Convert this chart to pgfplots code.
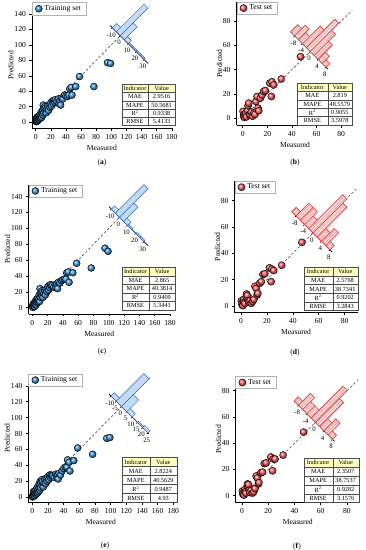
\documentclass[border=0pt]{standalone}
\usepackage{pgfplots}
\usepackage{pgfplotstable}
\pgfplotsset{compat=1.18}
\usepackage{fontspec}
\setmainfont{Liberation Serif}
\usetikzlibrary{plotmarks,patterns}
\definecolor{bluep}{RGB}{60,150,220}
\definecolor{redp}{RGB}{255,90,90}
\definecolor{hbfill}{RGB}{195,220,245}
\definecolor{hbdraw}{RGB}{40,100,210}
\definecolor{hrfill}{RGB}{255,230,230}
\definecolor{hrdraw}{RGB}{230,70,70}
\definecolor{hrhatch}{RGB}{242,140,140}
\definecolor{hdr}{RGB}{255,255,190}
\newcommand\lblfont{\fontsize{7.6}{9}\selectfont}
\newcommand\tblfont{\fontsize{6.3}{7}\selectfont}
\newcommand\hfont{\fontsize{6.8}{7}\selectfont}

\pgfplotstableread{
x ya yc ye
0.3 0.8 1 0.5
0.6 2 2.5 1.5
1 4 3.5 3
1.2 0.5 0.3 1
1.5 6 5 7
2 1.5 2 2.5
2.2 3 3.5 4
2.8 7 6 8
3 2 1.5 2
3.5 5 5.5 4.5
4 3.5 4 5
4.5 8 9 9
5 4 3.5 4
5.5 6 7 6
6 10 11 12
6.5 5 6 5.5
7 8 9 9
7.5 13 12 14
8 6 7 7
8.5 11 10 11
9 15 16 17
9.5 9 8 9
10 22 24 20
10.5 12 13 12
11 17 18 18
12 20 21 22
12.5 14 15 15
13 18 19 20
14 12 13 13
15 17 18 18
16 21 22 23
17 15 16 17
18 22 23 24
19 19 20 20
20 25 26 26
21 21 22 22
22 27 28 28
23 24 25 25
24 28 29 28
25 26 27 27
26 29 28 27
28 27 26 25
30 30 29 29
31 24 25 26
32 28 30 28
33 22 24 23
34 31 32 30
36 30 31 28
38 35 34 33
40 34 35 36
42 33 36 38
44 35 36 38
45 43 44 47
47 45 45 44
48 35 32 33
53 46 44 46
58 59 56 62
77 46 50 54
95 77 75 74
99 76 71 75
}\train

\pgfplotstableread{
x yb yd yf
0.3 5.5 4 3.5
0.8 1.4 1 1
1 3 2.5 2
1.5 0.5 0.3 0.5
2 2.7 5 4.5
2.5 4 3 3
3 1 2 2
4 6 7 7.5
4.3 10.1 9.1 9
4.9 12.3 8 8.5
5.5 3 4 4
6 2.7 3 2.5
7 5 4 4
8 1.5 2 2
9 4 3.5 3
10 3 5 5.5
10.8 13.7 15 15
11.7 17.8 13.4 13.5
12.5 8.2 8.4 9
13 6 9.6 10
14.4 16.4 17.2 17.5
15.7 19 18.5 18
17 22 24 24.5
18.4 22.7 24.5 25
22 28.8 29 29.5
23.3 17.8 18.5 19
23.8 30 28 28
25.2 27.4 27 28
31.4 32.3 31 31
47 50.7 48.4 48.5
}\test

\pgfplotsset{
  mainax/.style={scale only axis, anchor=south west, axis x line*=bottom, axis y line*=left,
    tick align=outside, major tick length=2.5pt, every tick/.style={black, line width=0.5pt},
    axis line style={black, line width=0.6pt},
    ticklabel style={font=\lblfont}, /pgf/number format/assume math mode=true,
    xlabel={Measured}, ylabel={Predicted}, label style={font=\lblfont},
    xlabel style={at={([yshift=-19.5pt]axis description cs:0.5,0)}, anchor=center},
    legend style={at={(0,1)}, anchor=north west, draw=gray!60, line width=0.4pt, font=\lblfont,
      inner xsep=3pt, inner ysep=0.8pt},
    legend cell align=left,
    legend image code/.code={\draw[mark repeat=2,mark phase=2,#1] plot coordinates {(0pt,0pt)(6pt,0pt)(12pt,0pt)};},
    clip=false},
  trainax/.style={mainax, xmin=-5, xmax=180, ymin=-8, ymax=155, xtick={0,20,...,180}, ytick={0,20,...,140},
    ylabel style={at={([xshift=-21pt]axis description cs:0,0.5)}, anchor=center}},
  testax/.style={mainax, xmin=-5, xmax=90, xtick={0,20,...,80}, ytick={0,20,...,80},
    ylabel style={at={([xshift=-17pt]axis description cs:0,0.5)}, anchor=center}},
  hist/.style={scale only axis, anchor=origin, rotate around={-45:(current axis.origin)},
    axis x line*=bottom, hide y axis, ymin=0, tick align=outside, major tick length=1.8pt,
    every tick/.style={black, line width=0.5pt}, axis line style={black, line width=0.7pt},
    xticklabel style={font=\hfont}, /pgf/number format/assume math mode=true, clip=false},
  dline/.style={gray!55!black, line width=0.6pt, dash pattern=on 2.5pt off 2pt},
  bball/.style={only marks, mark=ball, mark size=3.5pt, mark options={ball color=bluep}},
  rball/.style={only marks, mark=ball, mark size=3.6pt, mark options={ball color=redp}},
  bhist/.style={ybar interval, fill=hbfill, draw=hbdraw, line width=0.5pt},
  rhist/.style={ybar interval, fill=hrfill, draw=hrdraw, line width=0.5pt,
    postaction={pattern=north east lines, pattern color=hrhatch}},
}

\newcommand\tbl[9]{%
  \pgfmathsetmacro\rh{(#4-#5)/5}%
  \pgfmathsetmacro\cA{(#1+#2)/2}%
  \pgfmathsetmacro\cB{(#2+#3)/2}%
  \fill[white] (#1,#5) rectangle (#3,#4);
  \fill[hdr] (#1,#4-\rh) rectangle (#3,#4);
  \foreach \i in {1,2,3,4} {\draw[gray!60!black, line width=0.4pt] (#1,#4-\i*\rh) -- (#3,#4-\i*\rh);}
  \draw[gray!60!black, line width=0.4pt] (#2,#4) -- (#2,#5);
  \draw[gray!60!black, line width=0.4pt] (#1,#5) rectangle (#3,#4);
  \node[font=\tblfont] at (\cA,#4-0.5*\rh) {Indicator};
  \node[font=\tblfont] at (\cB,#4-0.5*\rh) {Value};
  \node[font=\tblfont] at (\cA,#4-1.5*\rh) {MAE};
  \node[font=\tblfont] at (\cB,#4-1.5*\rh) {#6};
  \node[font=\tblfont] at (\cA,#4-2.5*\rh) {MAPE};
  \node[font=\tblfont] at (\cB,#4-2.5*\rh) {#7};
  \node[font=\tblfont] at (\cA,#4-3.5*\rh) {R\textsuperscript{2}};
  \node[font=\tblfont] at (\cB,#4-3.5*\rh) {#8};
  \node[font=\tblfont] at (\cA,#4-4.5*\rh) {RMSE};
  \node[font=\tblfont] at (\cB,#4-4.5*\rh) {#9};
}

\begin{document}
\begin{tikzpicture}[x=1pt,y=1pt]
\useasboundingbox (0,0) rectangle (365,550);

% ---------- (a)
\begin{axis}[trainax, at={(31.9pt,421.8pt)}, width=139.9pt, height=125.7pt]
\addplot[dline, forget plot] coordinates {(0,0)(150,150)};
\addplot[bball] table[x=x,y=ya]{\train};
\addlegendentry{Training set}
\coordinate (ca) at (axis cs:112,112);
\end{axis}
\begin{axis}[hist, at={(ca)}, xmin=-13, xmax=35, width=53.8pt, ymax=26, height=39pt, xtick={-10,0,...,30}]
\addplot[bhist] coordinates {(-10,4)(-5,26)(0,12)(5,3)(10,1)(15,1)(20,1)(25,1)(30,1)};
\end{axis}

% ---------- (b)
\begin{axis}[testax, at={(236.55pt,424.7pt)}, width=116.9pt, height=123.4pt, ymin=-6, ymax=96]
\addplot[dline, forget plot] coordinates {(0,0)(89,89)};
\addplot[rball] table[x=x,y=yb]{\test};
\addlegendentry{Test set}
\coordinate (cb) at (axis cs:55,55);
\end{axis}
\begin{axis}[hist, at={(cb)}, xmin=-10, xmax=9, width=52.8pt, ymax=8, height=40pt, xtick={-8,-4,...,8}]
\addplot[rhist] coordinates {(-10,2)(-8,3)(-6,2)(-4,5)(-2,8)(0,6)(2,4)(4,2)(6,1)(8,0)};
\end{axis}

% ---------- (c)
\begin{axis}[trainax, at={(28.5pt,236pt)}, width=141.5pt, height=129.3pt]
\addplot[dline, forget plot] coordinates {(0,0)(150,150)};
\addplot[bball] table[x=x,y=yc]{\train};
\addlegendentry{Training set}
\coordinate (cc) at (axis cs:114,114);
\end{axis}
\begin{axis}[hist, at={(cc)}, xmin=-13, xmax=35, width=55.4pt, ymax=26, height=40.3pt, xtick={-10,0,...,30}]
\addplot[bhist] coordinates {(-10,3)(-5,26)(0,13)(5,3)(10,1)(15,0)(20,1)(25,1)(30,1)};
\end{axis}

% ---------- (d)
\begin{axis}[testax, at={(234.5pt,237.4pt)}, width=123.1pt, height=131.6pt, ymin=-5, ymax=95]
\addplot[dline, forget plot] coordinates {(0,0)(89,89)};
\addplot[rball] table[x=x,y=yd]{\test};
\addlegendentry{Test set}
\coordinate (cd) at (axis cs:55.6,55.6);
\end{axis}
\begin{axis}[hist, at={(cd)}, xmin=-10, xmax=9, width=57pt, ymax=8, height=48pt, xtick={-8,-4,...,8}]
\addplot[rhist] coordinates {(-10,1)(-8,3)(-6,3)(-4,2)(-2,8)(0,7)(2,2)(4,3)(6,1)(8,0)};
\end{axis}

% ---------- (e)
\begin{axis}[trainax, at={(28.4pt,47.9pt)}, width=144.9pt, height=128.3pt, ymin=-6]
\addplot[dline, forget plot] coordinates {(0,0)(150,150)};
\addplot[bball] table[x=x,y=ye]{\train};
\addlegendentry{Training set}
\coordinate (ce) at (axis cs:114,114);
\end{axis}
\begin{axis}[hist, at={(ce)}, xmin=-12, xmax=26, width=56.6pt, ymax=26, height=39pt, xtick={-10,-5,...,25}]
\addplot[bhist] coordinates {(-10,3)(-5,26)(0,11)(5,3)(10,0)(15,1)(20,2)(25,0)};
\end{axis}

% ---------- (f)
\begin{axis}[testax, at={(235.4pt,47.7pt)}, width=124.7pt, height=126pt, ymin=-5, ymax=91]
\addplot[dline, forget plot] coordinates {(0,0)(89,89)};
\addplot[rball] table[x=x,y=yf]{\test};
\addlegendentry{Test set}
\coordinate (cf) at (axis cs:56,56);
\end{axis}
\begin{axis}[hist, at={(cf)}, xmin=-10, xmax=9, width=57pt, ymax=8, height=45pt, xtick={-8,-4,...,8}]
\addplot[rhist] coordinates {(-10,1)(-8,3)(-6,2)(-4,2)(-2,8)(0,6)(2,2)(4,3)(6,1)(8,0)};
\end{axis}

% ---------- tables
\tbl{121.7}{148.3}{175}{465.7}{424.3}{2.9516}{50.5681}{0.9338}{5.4133}
\tbl{297}{327.7}{352}{466.7}{425}{2.819}{48.5579}{0.9055}{3.5978}
\tbl{121.7}{149.3}{175}{282.7}{240}{2.865}{40.3814}{0.9409}{5.3441}
\tbl{303.7}{332.7}{357.7}{282.7}{239.3}{2.5768}{38.7341}{0.9202}{3.2843}
\tbl{121.7}{150}{176.7}{92.3}{47.3}{2.8224}{40.5629}{0.9487}{4.93}
\tbl{303.7}{332.7}{358.7}{91.7}{47.3}{2.3507}{38.7537}{0.9282}{3.1576}

% ---------- captions
\node[font=\lblfont] at (102,387) {(\textbf{a})};
\node[font=\lblfont] at (295,387) {(\textbf{b})};
\node[font=\lblfont] at (102,198) {(\textbf{c})};
\node[font=\lblfont] at (295,197.5) {(\textbf{d})};
\node[font=\lblfont] at (105,4) {(\textbf{e})};
\node[font=\lblfont] at (297,3.5) {(\textbf{f})};
\end{tikzpicture}
\end{document}
